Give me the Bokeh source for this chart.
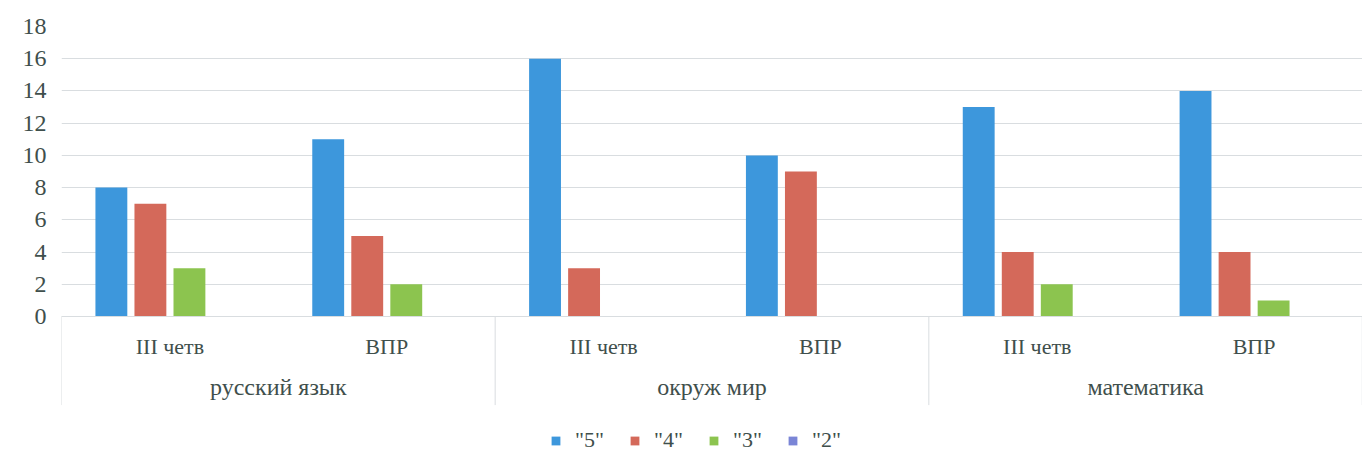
from bokeh.plotting import figure
from bokeh.models import FactorRange, Range1d, FixedTicker, Legend, LegendItem, ColumnDataSource
from bokeh.transform import dodge
from bokeh.embed import file_html
from bokeh.resources import INLINE

subjects = ["русский язык", "окруж мир", "математика"]
periods = ["III четв", "ВПР"]
series_labels = ['"5"', '"4"', '"3"', '"2"']
grade5 = [8, 11, 16, 10, 13, 14]
grade4 = [7, 5, 3, 9, 4, 4]
grade3 = [3, 2, 0, 0, 2, 1]
grade2 = [0, 0, 0, 0, 0, 0]
y_ticks = [0, 2, 4, 6, 8, 10, 12, 14, 16, 18]
colors = ["#3d97dc", "#d4695a", "#8cc44f", "#7a85d6"]

TEXT = "#3f4f4c"
GRID = "#d9dde0"
FONT = "Liberation Serif"

factors = [(s, q) for s in subjects for q in periods]
src = ColumnDataSource(dict(x=factors, g5=grade5, g4=grade4, g3=grade3, g2=grade2))

# frame extends below the baseline so the category labels and legend fit inside it
p = figure(x_range=FactorRange(*factors, range_padding=0, group_padding=0),
           y_range=Range1d(-8.69, 18), frame_width=1301, frame_height=430,
           output_backend="svg", toolbar_location=None,
           min_border_left=61, min_border_right=0, min_border_top=26,
           min_border_bottom=0)

offsets = [-0.27, -0.09, 0.09, 0.27]
cols = ["g5", "g4", "g3", "g2"]
renderers = []
for off, c, col in zip(offsets, cols, colors):
    r = p.vbar(x=dodge("x", off, range=p.x_range), top=c, bottom=0, width=0.147, source=src,
               fill_color=col, line_color=None)
    renderers.append(r)

# group separator lines of the multi-level category axis (left edge of each group + right edge)
sep_left = ColumnDataSource(dict(x=[(s, periods[0]) for s in subjects]))
sep_right = ColumnDataSource(dict(x=[(subjects[-1], periods[-1])]))
p.segment(x0=dodge("x", -0.5, range=p.x_range), x1=dodge("x", -0.5, range=p.x_range),
          y0=0, y1=-5.5, source=sep_left, line_color=GRID, line_width=1)
p.segment(x0=dodge("x", 0.499, range=p.x_range), x1=dodge("x", 0.499, range=p.x_range),
          y0=0, y1=-5.5, source=sep_right, line_color=GRID, line_width=1)

p.outline_line_color = None
p.xgrid.grid_line_color = None
p.ygrid.grid_line_color = GRID
p.ygrid.grid_line_width = 1

p.yaxis.ticker = FixedTicker(ticks=y_ticks)
p.yaxis.axis_line_color = None
p.yaxis.major_tick_line_color = None
p.yaxis.minor_tick_line_color = None
p.yaxis.major_label_text_font = FONT
p.yaxis.major_label_text_font_size = "24px"
p.yaxis.major_label_text_color = TEXT
p.yaxis.major_label_standoff = 9

p.xaxis.fixed_location = 0
p.xaxis.axis_line_color = GRID
p.xaxis.major_tick_line_color = None
p.xaxis.major_label_text_font = FONT
p.xaxis.major_label_text_font_size = "22px"
p.xaxis.major_label_text_color = TEXT
p.xaxis.major_label_standoff = 12
p.xaxis.group_text_font = FONT
p.xaxis.group_text_font_size = "24px"
p.xaxis.group_text_color = TEXT
p.xaxis.group_text_font_style = "normal"
p.xaxis.separator_line_color = None

legend = Legend(items=[LegendItem(label=l, renderers=[r]) for l, r in zip(series_labels, renderers)],
                orientation="horizontal", location=(489, 3))
legend.label_text_font = FONT
legend.label_text_font_size = "22px"
legend.label_text_color = TEXT
legend.glyph_width = 11
legend.glyph_height = 11
legend.label_height = 22
legend.label_standoff = 14
legend.spacing = 25
legend.border_line_color = None
legend.background_fill_alpha = 0
legend.margin = 0
legend.padding = 4
p.add_layout(legend, "center")

open("out.html", "w").write(file_html(p, INLINE))
